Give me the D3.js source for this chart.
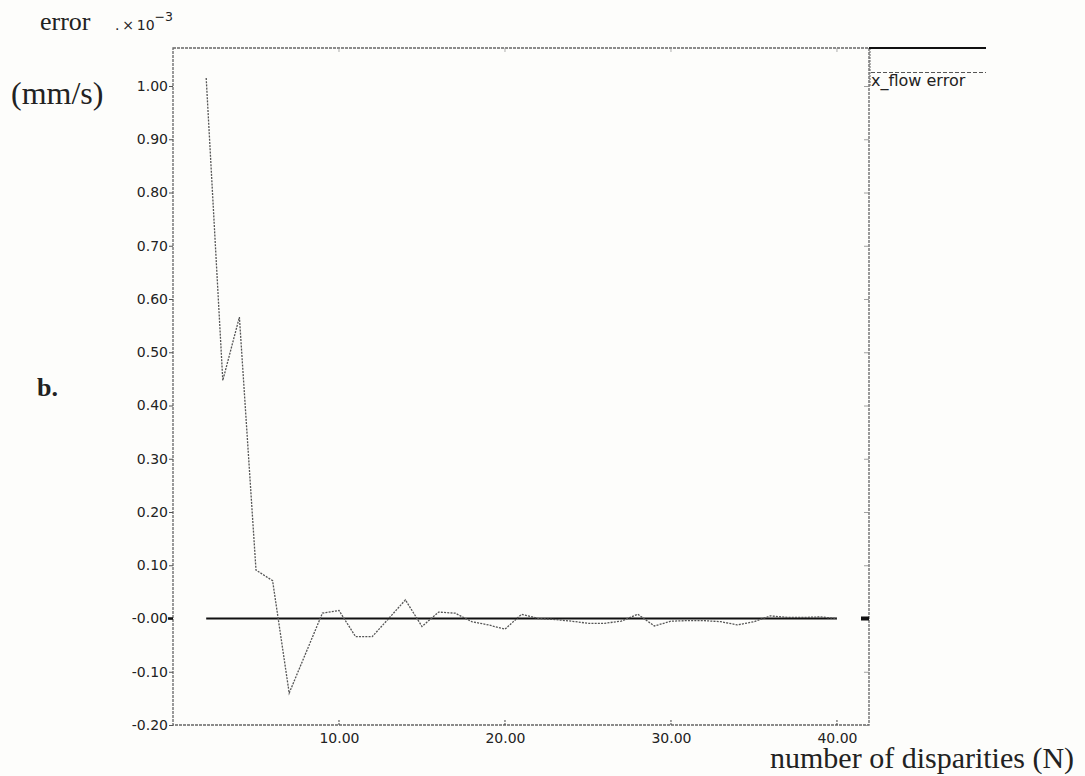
<!DOCTYPE html>
<html>
<head>
<meta charset="utf-8">
<script src="https://cdn.jsdelivr.net/npm/d3@7"></script>
<style>
  html, body { margin: 0; padding: 0; background: #fdfdfb; }
  svg { display: block; }
</style>
</head>
<body>
<svg id="chart" width="1085" height="776"></svg>
<script>
// ---- data ----
const disparities = [2,3,4,5,6,7,8,9,10,11,12,13,14,15,16,17,18,19,20,21,22,23,24,25,26,27,28,29,30,31,32,33,34,35,36,37,38,39,40];
const flowError = [1.015,0.447,0.566,0.091,0.071,-0.140,-0.065,0.010,0.015,-0.034,-0.034,0.000,0.035,-0.015,0.012,0.010,-0.006,-0.012,-0.020,0.008,0.000,-0.002,-0.005,-0.009,-0.009,-0.005,0.008,-0.014,-0.005,-0.004,-0.004,-0.006,-0.012,-0.006,0.005,0.002,0.002,0.003,0.000];
const referenceLine = [[2,0],[40,0]];
const yTicks = [1.0,0.9,0.8,0.7,0.6,0.5,0.4,0.3,0.2,0.1,0.0,-0.1,-0.2];
const yTickLabels = ["1.00","0.90","0.80","0.70","0.60","0.50","0.40","0.30","0.20","0.10","-0.00","-0.10","-0.20"];
const xTicks = [10,20,30,40];
const xTickLabels = ["10.00","20.00","30.00","40.00"];
const legendLabel = "x_flow error";

// ---- layout ----
const L = 173, R = 869, T = 48, B = 725;
const x = d3.scaleLinear().domain([0, 41.93]).range([L, R]);
const y = d3.scaleLinear().domain([-0.2, 1.0]).range([B, 86]);

const svg = d3.select("#chart");
const frameColor = "#666";
const sans = "'DejaVu Sans', Verdana, sans-serif";
const serif = "'Liberation Serif', 'Times New Roman', serif";

// frame (dotted)
svg.append("rect").attr("x", L).attr("y", T).attr("width", R - L).attr("height", B - T)
  .attr("fill", "none").attr("stroke", frameColor).attr("stroke-width", 1.3)
  .attr("stroke-dasharray", "3,1");

// left y axis
const yAxisL = d3.axisLeft(y).tickValues(yTicks).tickSize(4).tickPadding(1)
  .tickFormat((d, i) => yTickLabels[i]);
const gL = svg.append("g").attr("transform", `translate(${L},0)`).call(yAxisL);
gL.select(".domain").remove();
gL.selectAll("line").attr("stroke", "#555");
gL.selectAll("text").attr("font-family", sans).attr("font-size", 14).attr("fill", "#222");

// right y axis ticks (inside)
const yAxisR = d3.axisLeft(y).tickValues(yTicks).tickSize(5).tickFormat("");
const gR = svg.append("g").attr("transform", `translate(${R},0)`).call(yAxisR);
gR.select(".domain").remove();
gR.selectAll("line").attr("stroke", "#888").attr("stroke-width", 0.8);

// bottom x axis labels
const xAxisB = d3.axisBottom(x).tickValues(xTicks).tickSize(0).tickPadding(8)
  .tickFormat((d, i) => xTickLabels[i]);
const gB = svg.append("g").attr("transform", `translate(0,${B})`).call(xAxisB);
gB.select(".domain").remove();
gB.selectAll("text").attr("font-family", sans).attr("font-size", 14).attr("fill", "#222");
// bottom ticks (inside)
svg.append("g").selectAll("line").data(xTicks).join("line")
  .attr("x1", d => x(d)).attr("x2", d => x(d)).attr("y1", B).attr("y2", B - 6)
  .attr("stroke", "#444").attr("stroke-width", 1).attr("stroke-dasharray", "2,1");
// top ticks
svg.append("g").selectAll("line").data(xTicks).join("line")
  .attr("x1", d => x(d)).attr("x2", d => x(d)).attr("y1", T).attr("y2", T + 4)
  .attr("stroke", "#999").attr("stroke-width", 0.8);

// zero marks on axes (bold)
svg.append("line").attr("x1", L - 5).attr("x2", L).attr("y1", y(0)).attr("y2", y(0))
  .attr("stroke", "#111").attr("stroke-width", 2.5);
svg.append("rect").attr("x", R - 8).attr("y", y(0) - 2).attr("width", 8).attr("height", 4)
  .attr("fill", "#111");

// reference (zero) line
const line = d3.line().x(d => x(d[0])).y(d => y(d[1]));
svg.append("path").datum(referenceLine).attr("d", line)
  .attr("fill", "none").attr("stroke", "#111").attr("stroke-width", 2);

// error series (dotted)
svg.append("path").datum(disparities.map((d, i) => [d, flowError[i]])).attr("d", line)
  .attr("fill", "none").attr("stroke", "#555").attr("stroke-width", 1.3)
  .attr("stroke-dasharray", "2,1.2");

// legend
svg.append("line").attr("x1", R + 1).attr("x2", R + 1).attr("y1", T).attr("y2", 87)
  .attr("stroke", "#666").attr("stroke-width", 1).attr("stroke-dasharray", "2,1");
svg.append("line").attr("x1", R).attr("x2", 986).attr("y1", T).attr("y2", T)
  .attr("stroke", "#111").attr("stroke-width", 2);
svg.append("line").attr("x1", R + 2).attr("x2", 986).attr("y1", 72.5).attr("y2", 72.5)
  .attr("stroke", "#555").attr("stroke-width", 1.2).attr("stroke-dasharray", "4,2");
svg.append("text").attr("x", 871).attr("y", 86).text(legendLabel)
  .attr("font-family", sans).attr("font-size", 16).attr("fill", "#222");

// titles / labels
svg.append("text").attr("x", 40).attr("y", 30).text("error")
  .attr("font-family", serif).attr("font-size", 26).attr("fill", "#222");
const exp = svg.append("text").attr("x", 115).attr("y", 30)
  .attr("font-family", sans).attr("font-size", 14).attr("fill", "#222");
exp.append("tspan").text(".\u2009\u00d7\u200910");
exp.append("tspan").attr("dy", -9).attr("font-size", 12.5).text("\u22123");
svg.append("text").attr("x", 11).attr("y", 104).text("(mm/s)")
  .attr("font-family", serif).attr("font-size", 32).attr("fill", "#222");
svg.append("text").attr("x", 37).attr("y", 396).text("b.")
  .attr("font-family", serif).attr("font-size", 26).attr("font-weight", "bold").attr("fill", "#222");
svg.append("text").attr("x", 770).attr("y", 768).text("number of disparities (N)")
  .attr("font-family", serif).attr("font-size", 30).attr("fill", "#222");
</script>
</body>
</html>
